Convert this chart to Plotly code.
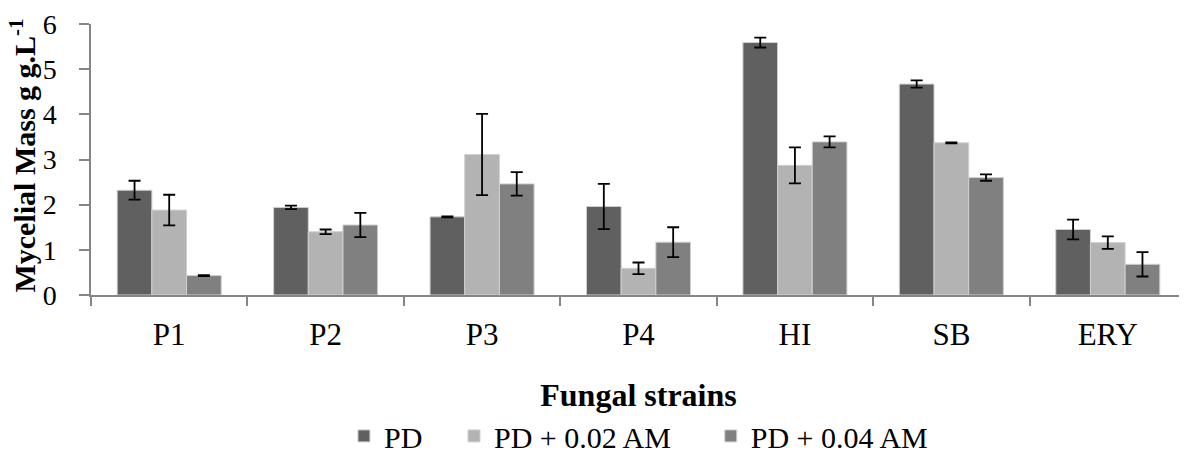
import plotly.graph_objects as go

categories = ["P1", "P2", "P3", "P4", "HI", "SB", "ERY"]
series_names = ["PD", "PD + 0.02 AM", "PD + 0.04 AM"]
pd_vals = [2.32, 1.94, 1.73, 1.96, 5.59, 4.67, 1.45]
pd_err = [0.21, 0.04, 0.01, 0.50, 0.11, 0.08, 0.22]
am02_vals = [1.88, 1.40, 3.11, 0.59, 2.87, 3.37, 1.16]
am02_err = [0.34, 0.05, 0.90, 0.13, 0.40, 0.01, 0.14]
am04_vals = [0.43, 1.55, 2.46, 1.17, 3.39, 2.60, 0.68]
am04_err = [0.01, 0.27, 0.26, 0.33, 0.12, 0.07, 0.27]
y_ticks = [0, 1, 2, 3, 4, 5, 6]
y_title = "<b>Mycelial Mass g g.L<sup>-1</sup></b>"
x_title = "<b>Fungal strains</b>"

colors = ["#606060", "#b3b3b3", "#808080"]
legend_ids = ["legend", "legend2", "legend3"]
legend_x = [0.231, 0.3315, 0.566]
FONT = "Liberation Serif"

fig = go.Figure()
for name, vals, errs, col, lg in zip(series_names, [pd_vals, am02_vals, am04_vals],
                                     [pd_err, am02_err, am04_err], colors, legend_ids):
    fig.add_trace(go.Bar(
        x=categories, y=vals, name=name, legend=lg,
        marker=dict(color=col, line=dict(color="#d0d0d0", width=1)),
        error_y=dict(type="data", array=errs, visible=True, color="black",
                     thickness=1.8, width=6),
    ))

legend_common = dict(orientation="h", y=-0.52, yanchor="middle", xanchor="left",
                     font=dict(size=30, family=FONT), itemwidth=30,
                     bgcolor="rgba(0,0,0,0)")

# page body has an 8px default margin; margins compensate so the plot area
# lands where the reference has it
fig.update_layout(
    width=1179, height=455,
    margin=dict(l=83, r=1, t=16, b=164),
    paper_bgcolor="white", plot_bgcolor="white",
    barmode="group", bargap=0.335, bargroupgap=0,
    font=dict(family=FONT, color="black", size=28),
    showlegend=True,
    legend=dict(x=legend_x[0], **legend_common),
    legend2=dict(x=legend_x[1], **legend_common),
    legend3=dict(x=legend_x[2], **legend_common),
    xaxis=dict(
        showline=True, linecolor="#868686", linewidth=1.5, automargin=False,
        ticks="outside", tickson="boundaries", ticklen=9, tickcolor="#868686",
        tickwidth=1.5, tickfont=dict(size=31, family=FONT),
        ticklabelstandoff=11,
        title=dict(text=x_title, font=dict(size=32, family=FONT), standoff=33),
        showgrid=False,
    ),
    yaxis=dict(
        range=[0, 6], tickvals=y_ticks, showline=True, linecolor="#868686",
        linewidth=1.5, ticks="outside", ticklen=10, tickcolor="#868686", tickwidth=1.5,
        tickfont=dict(size=28, family=FONT), ticklabelstandoff=17, automargin=False,
        showgrid=False, zeroline=False,
    ),
    annotations=[dict(
        text=y_title, textangle=-90, xref="paper", yref="paper",
        x=-0.062, y=0.515, xanchor="center", yanchor="middle", showarrow=False,
        font=dict(size=30, family=FONT, color="black"),
    )],
)

fig.write_html("out.html")
